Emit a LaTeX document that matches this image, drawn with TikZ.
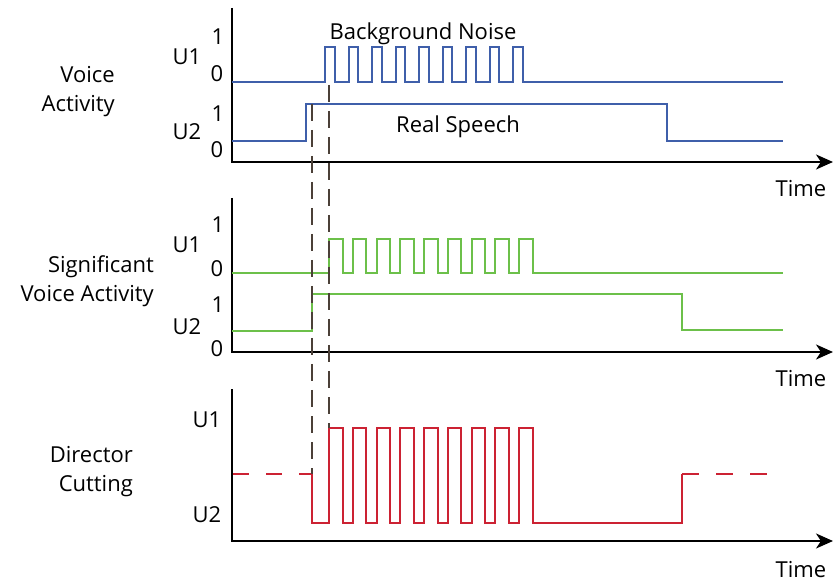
\documentclass[tikz,border=0pt]{standalone}
\usepackage{fontspec}
\setmainfont{Open Sans}
\usetikzlibrary{arrows.meta}
\definecolor{vablue}{HTML}{3F5FAA}
\definecolor{svgreen}{HTML}{6CC04A}
\definecolor{dcred}{HTML}{CC2233}
\definecolor{cutgray}{HTML}{4B4038}

\begin{document}
\begin{tikzpicture}[x=1pt,y=-1pt,
    axis/.style={line width=2.2pt,-{Stealth[length=17pt,width=15pt,inset=5pt]}},
    sig/.style={line width=2pt},
    lbl/.style={font=\fontsize{22}{29}\selectfont,inner sep=0pt},
    cut/.style={line width=2pt,cutgray,dash pattern=on 17pt off 9pt}]
    \useasboundingbox (0,0) rectangle (833,585);

    \coordinate (T1) at (232,8);
    \coordinate (O1) at (232,162);
    \coordinate (E1) at (833,162);
    \coordinate (T2) at (232,198);
    \coordinate (O2) at (232,352);
    \coordinate (E2) at (833,352);
    \coordinate (T3) at (232,389);
    \coordinate (O3) at (232,541);
    \coordinate (E3) at (833,541);

    \draw[axis] (T1)--(O1)--(E1);
    \draw[axis] (T2)--(O2)--(E2);
    \draw[axis] (T3)--(O3)--(E3);

    % voice activity
    \draw[sig,vablue] (232,82) foreach \k in {0,...,8} {
        -- ({325+23.5*\k},82) -- ++(0,-35) -- ++(9.7,0) -- ++(0,35)} -- (783,82);
    \draw[sig,vablue] (232,141) -- (306,141) -- (306,104) -- (667,104) -- (667,141) -- (783,141);

    % significant voice activity
    \draw[sig,svgreen] (232,273) foreach \k in {0,...,8} {
        -- ({329+23.75*\k},273) -- ++(0,-34) -- ++(13.5,0) -- ++(0,34)} -- (783,273);
    \draw[sig,svgreen] (232,331) -- (312,331) -- (312,294) -- (682,294) -- (682,330) -- (783,330);

    % director cutting
    \coordinate (M1) at (312,474);
    \coordinate (M2) at (682,474);
    \draw[sig,dcred,dash pattern=on 16pt off 17pt] (233,474) -- (M1);
    \draw[sig,dcred] (M1) -- (312,523) foreach \k in {0,...,8} {
        -- ({329+23.75*\k},523) -- ++(0,-95) -- ++(13.5,0) -- ++(0,95)} -- (682,523) -- (M2);
    \draw[sig,dcred,dash pattern=on 17pt off 17pt] (M2) -- (768,474);

    \coordinate (C1) at (312,104);
    \coordinate (C2) at (329,85);
    \coordinate (D1) at (312,474);
    \coordinate (D2) at (329,428);
    \draw[cut] (C1)--(D1);
    \draw[cut] (C2)--(D2);

    \node[lbl,anchor=east,align=right] (va) at (115,92) {Voice\\Activity};
    \node[lbl,anchor=east,align=right] (sva) at (154,281) {Significant\\Voice Activity};
    \node[lbl,anchor=east,align=right] (dc) at (133,472) {Director\\Cutting};

    \node[lbl,anchor=base] (vaU1) at (187,65) {U1};
    \node[lbl,anchor=base] (vaU1h) at (218,45) {1};
    \node[lbl,anchor=base] (vaU1l) at (217,82) {0};
    \node[lbl,anchor=base] (vaU2) at (187,140) {U2};
    \node[lbl,anchor=base] (vaU2h) at (218,122) {1};
    \node[lbl,anchor=base] (vaU2l) at (217,158) {0};

    \node[lbl,anchor=base] (svU1) at (187,253) {U1};
    \node[lbl,anchor=base] (svU1h) at (218,233) {1};
    \node[lbl,anchor=base] (svU1l) at (217,277) {0};
    \node[lbl,anchor=base] (svU2) at (187,335) {U2};
    \node[lbl,anchor=base] (svU2h) at (218,313) {1};
    \node[lbl,anchor=base] (svU2l) at (217,357) {0};

    \node[lbl,anchor=base] (dcU1) at (207,427) {U1};
    \node[lbl,anchor=base] (dcU2) at (207,522) {U2};

    \node[lbl,anchor=base] (noise) at (423,40) {Background Noise};
    \node[lbl,anchor=base] (speech) at (458,133) {Real Speech};

    \node[lbl,anchor=base] (time1) at (801,197) {Time};
    \node[lbl,anchor=base] (time2) at (801,387) {Time};
    \node[lbl,anchor=base] (time3) at (801,577) {Time};
\end{tikzpicture}
\end{document}
